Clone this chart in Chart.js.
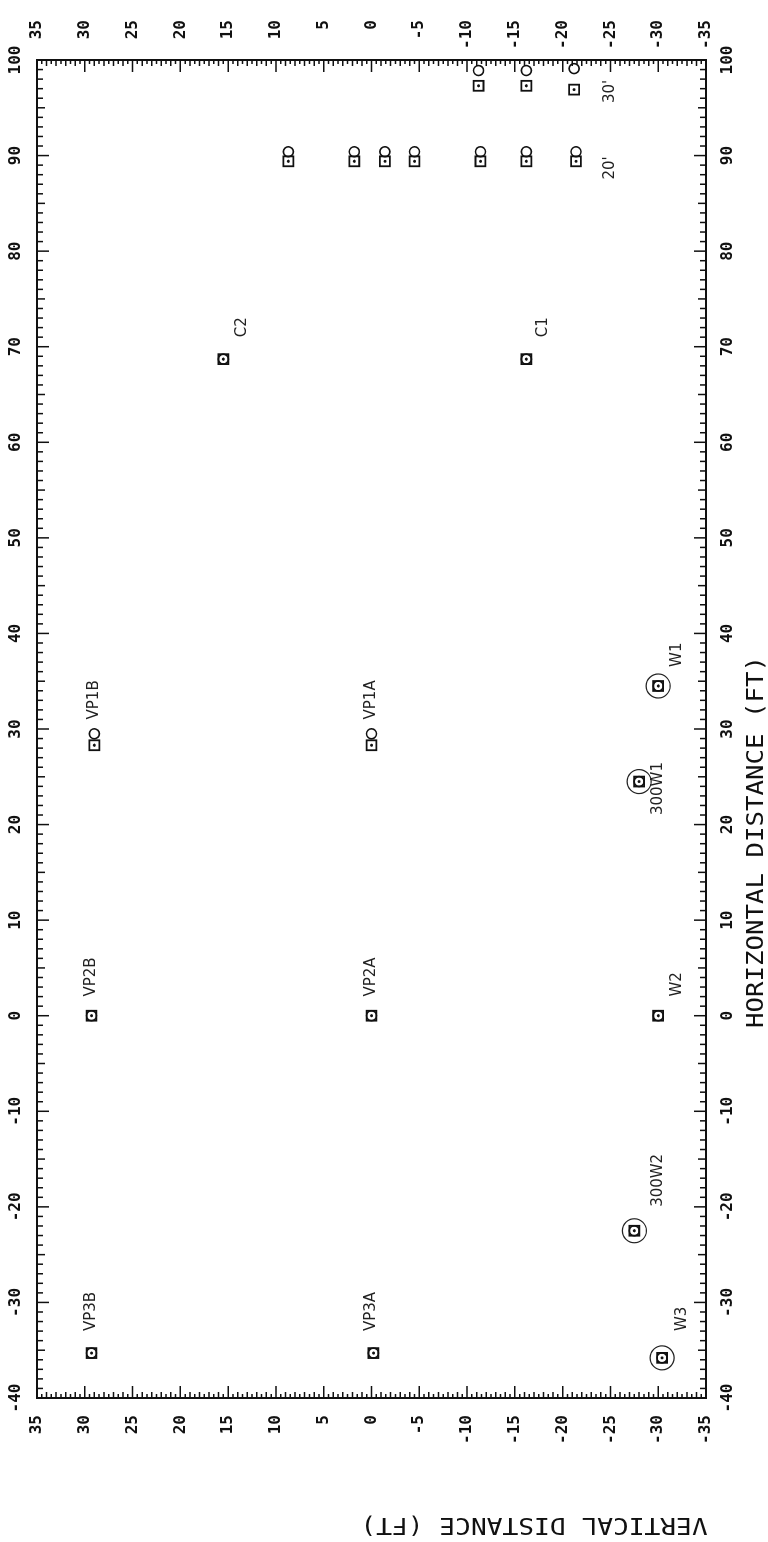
<!DOCTYPE html>
<html>
<head>
<meta charset="utf-8">
<script src="https://cdn.jsdelivr.net/npm/chart.js"></script>
<style>
  html, body { margin: 0; padding: 0; background: #fff; overflow: hidden; }
  /* the plot is printed sideways: draw it upright, then turn it a quarter left */
  #wrap {
    position: absolute; left: 0; top: 0;
    width: 1542px; height: 768px;
    transform-origin: 0 0;
    transform: translateY(1542px) rotate(-90deg);
  }
</style>
</head>
<body>
<div id="wrap"><canvas id="myChart" width="1542" height="768"></canvas></div>
<script>
// x = horizontal distance (ft), y = vertical distance (ft)
let circleX = [29.5, 29.5, 0, 0, -35.3, -35.3, 68.7, 68.7, 34.5, 24.5, 0, -22.5, -35.8,
               90.4, 90.4, 90.4, 90.4, 90.4, 90.4, 90.4, 98.9, 98.9, 99.1];
let circleY = [29, 0, 29.3, 0, 29.3, -0.2, 15.5, -16.2, -30, -28, -30, -27.5, -30.4,
               8.7, 1.8, -1.4, -4.5, -11.4, -16.2, -21.4, -11.2, -16.2, -21.2];
let squareX = [28.3, 28.3, 0, 0, -35.3, -35.3, 68.7, 68.7, 34.5, 24.5, 0, -22.5, -35.8,
               89.4, 89.4, 89.4, 89.4, 89.4, 89.4, 89.4, 97.3, 97.3, 96.9];
let squareY = [29, 0, 29.3, 0, 29.3, -0.2, 15.5, -16.2, -30, -28, -30, -27.5, -30.4,
               8.7, 1.8, -1.4, -4.5, -11.4, -16.2, -21.4, -11.2, -16.2, -21.2];
// big rings drawn by hand round some of the wells
let ringX = [34.5, 24.5, -35.8, -22.5];
let ringY = [-30, -28, -30.4, -27.5];

let labelText = ['VP1B', 'VP1A', 'VP2B', 'VP2A', 'VP3B', 'VP3A', 'C2', 'C1',
                 'W1', '300W1', 'W2', '300W2', 'W3', "20'", "30'"];
let labelX = [31, 31, 2, 2, -33, -33, 71, 71, 36.5, 21, 2, -20, -33, 87.5, 95.5];
let labelY = [29, 0, 29.3, 0, 29.3, 0, 13.5, -18, -32, -30, -32, -30, -32.5, -25, -25];

let xTickStep = 10;
let yTickStep = 5;

const mono = 'DejaVu Sans Mono';
Chart.defaults.font.family = mono;
Chart.defaults.color = '#111';

function pts(xs, ys) {
    return xs.map((x, i) => ({x: x, y: ys[i]}));
}

// frame with inward tick marks, drawn from the chart's own scales
const frameTicks = {
    id: 'frameTicks',
    afterDraw(chart) {
        const {ctx, chartArea: a, scales} = chart;
        ctx.save();
        ctx.strokeStyle = '#111';
        ctx.lineWidth = 2;
        ctx.strokeRect(a.left, a.top, a.right - a.left, a.bottom - a.top);
        ctx.lineWidth = 1.5;
        ctx.beginPath();
        for (let v = -40; v <= 100; v++) {
            const p = scales.x.getPixelForValue(v);
            const len = v % 10 === 0 ? 12 : (v % 5 === 0 ? 8 : 6);
            ctx.moveTo(p, a.bottom); ctx.lineTo(p, a.bottom - len);
            ctx.moveTo(p, a.top); ctx.lineTo(p, a.top + len);
        }
        for (let v = -35; v <= 35; v += 0.5) {
            const p = scales.y.getPixelForValue(v);
            const len = v % 5 === 0 ? 12 : (v % 1 === 0 ? 6 : 4);
            ctx.moveTo(a.left, p); ctx.lineTo(a.left + len, p);
            ctx.moveTo(a.right, p); ctx.lineTo(a.right - len, p);
        }
        ctx.stroke();

        // hand lettering next to the marks
        ctx.fillStyle = '#222';
        ctx.font = '15px "DejaVu Sans"';
        ctx.textBaseline = 'middle';
        ctx.textAlign = 'left';
        labelText.forEach((t, i) => {
            ctx.fillText(t, scales.x.getPixelForValue(labelX[i]), scales.y.getPixelForValue(labelY[i]));
        });

        // axis titles, in the wide plotter lettering
        ctx.fillStyle = '#111';
        ctx.font = '23px ' + mono;
        ctx.textAlign = 'center';
        ctx.textBaseline = 'middle';
        ctx.save();
        ctx.translate(700, 757);
        ctx.scale(1.12, 1);
        ctx.fillText('HORIZONTAL DISTANCE (FT)', 0, 0);
        ctx.restore();
        ctx.save();
        ctx.translate(18, 534);
        ctx.rotate(-Math.PI / 2);
        ctx.scale(1.14, 1);
        ctx.fillText('VERTICAL DISTANCE (FT)', 0, 0);
        ctx.restore();
        ctx.restore();
    }
};

const tickFont = {size: 16, weight: 'bold'};

let myChart = document.getElementById('myChart').getContext('2d');
let plot = new Chart(myChart, {
    type: 'scatter',
    data: {
        datasets: [{
            label: 'circles',
            data: pts(circleX, circleY),
            pointStyle: 'circle',
            pointRadius: 5,
            borderColor: '#111',
            backgroundColor: 'rgba(0,0,0,0)',
            borderWidth: 1.6
        }, {
            label: 'squares',
            data: pts(squareX, squareY),
            pointStyle: 'rect',
            pointRadius: 7,
            borderColor: '#111',
            backgroundColor: 'rgba(0,0,0,0)',
            borderWidth: 1.8
        }, {
            label: 'square dots',
            data: pts(squareX, squareY),
            pointStyle: 'circle',
            pointRadius: 1.5,
            borderWidth: 0,
            backgroundColor: '#111'
        }, {
            label: 'rings',
            data: pts(ringX, ringY),
            pointStyle: 'circle',
            pointRadius: 12,
            borderColor: '#222',
            backgroundColor: 'rgba(0,0,0,0)',
            borderWidth: 1.2
        }]
    },
    options: {
        responsive: false,
        animation: false,
        devicePixelRatio: 1,
        layout: {padding: {right: 20}},
        plugins: {
            legend: {display: false},
            tooltip: {enabled: false}
        },
        scales: {
            x: {
                type: 'linear', position: 'bottom', min: -40, max: 100,
                ticks: {stepSize: xTickStep, padding: 12, maxRotation: 0, font: tickFont},
                grid: {display: false, drawTicks: false},
                border: {display: false},
                afterFit: s => { s.height = 62; }
            },
            x2: {
                type: 'linear', position: 'top', min: -40, max: 100,
                ticks: {stepSize: xTickStep, padding: 12, maxRotation: 0, font: tickFont},
                grid: {display: false, drawTicks: false},
                border: {display: false},
                afterFit: s => { s.height = 37; }
            },
            y: {
                type: 'linear', position: 'left', min: -35, max: 35,
                ticks: {stepSize: yTickStep, padding: 17, font: tickFont},
                grid: {display: false, drawTicks: false},
                border: {display: false},
                afterFit: s => { s.width = 144; }
            },
            y2: {
                type: 'linear', position: 'right', min: -35, max: 35,
                ticks: {stepSize: yTickStep, crossAlign: 'far', font: tickFont},
                grid: {display: false, drawTicks: false},
                border: {display: false},
                afterFit: s => { s.width = 40; }
            }
        }
    },
    plugins: [frameTicks]
});
</script>
</body>
</html>
